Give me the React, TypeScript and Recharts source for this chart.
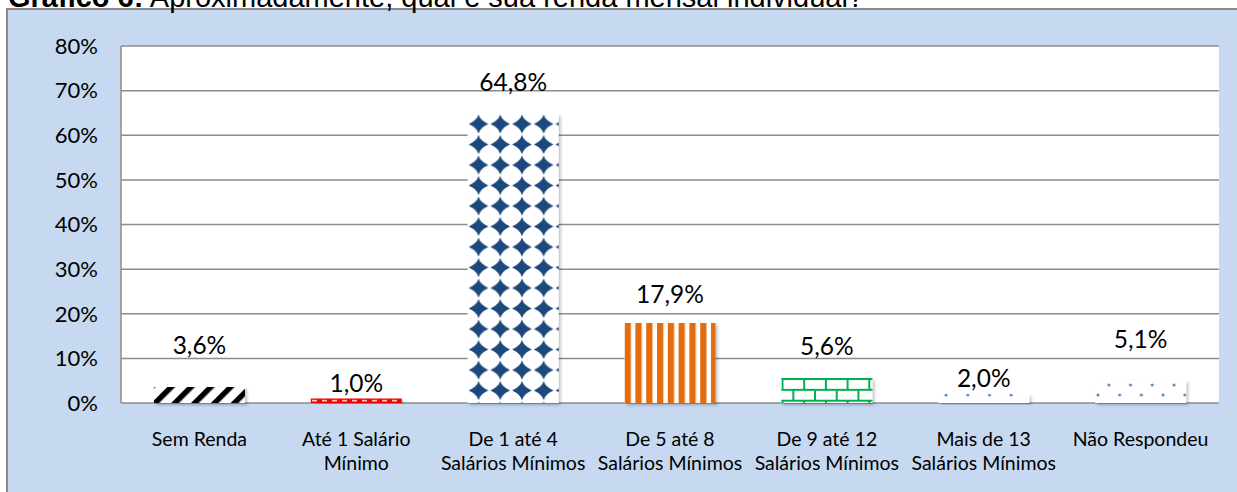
import { BarChart, Bar, Cell, XAxis, YAxis, CartesianGrid, LabelList } from "recharts";

// valores (em %)
const categories = [
  "Sem Renda",
  "Até 1 Salário\nMínimo",
  "De 1 até 4\nSalários Mínimos",
  "De 5 até 8\nSalários Mínimos",
  "De 9 até 12\nSalários Mínimos",
  "Mais de 13\nSalários Mínimos",
  "Não Respondeu",
];
const shares = [3.6, 1.0, 64.8, 17.9, 5.6, 2.0, 5.1];
const shareLabels = ["3,6%", "1,0%", "64,8%", "17,9%", "5,6%", "2,0%", "5,1%"];
const yTicks = [0, 10, 20, 30, 40, 50, 60, 70, 80];

// estilo: padrão de cada barra e distância do rótulo ao topo da barra
const patternIds = ["pStripes", "pDashes", "pDiamonds", "pVStripes", "pBricks", "pDots", "pDots"];
const labelLift = [42, 15.5, 32, 29, 32, 16, 41];

const chartData = categories.map((name, i) => ({ name, value: shares[i], label: shareLabels[i] }));

const FONT = "Lato, 'DejaVu Sans', sans-serif";

// eslint-disable-next-line @typescript-eslint/no-explicit-any
const CategoryTick = ({ x, y, payload }: any) => {
  const lines = String(payload.value).split("\n");
  return (
    <text x={x} y={y} textAnchor="middle" fontFamily={FONT} fontSize={19.5} fill="#000">
      {lines.map((line: string, i: number) => (
        <tspan key={i} x={x} y={y + 35 + i * 23.5}>
          {line}
        </tspan>
      ))}
    </text>
  );
};

// eslint-disable-next-line @typescript-eslint/no-explicit-any
const ValueLabel = ({ x, y, width, index, value }: any) => {
  const cy = y - labelLift[index];
  return (
    <text x={x + width / 2} y={cy + 8.8} textAnchor="middle" fontFamily={FONT} fontSize={24.5} fill="#000">
      {value}
    </text>
  );
};

export default function App() {
  return (
    <div style={{ position: "fixed", left: 0, top: 0, width: 1237, height: 492, overflow: "hidden", background: "#fff" }}>
      <div
        style={{
          position: "absolute",
          left: 6,
          top: 8,
          width: 1300,
          height: 600,
          background: "#C6D9F0",
          border: "2px solid #8a8a8a",
        }}
      />
      <div style={{ position: "absolute", left: 0, top: 0 }}>
        <BarChart
          width={1237}
          height={492}
          data={chartData}
          margin={{ top: 46, right: 18, left: 0, bottom: 0 }}
          barCategoryGap="21%"
        >
          <defs>
            <pattern id="pStripes" patternUnits="userSpaceOnUse" width={14} height={14} patternTransform="rotate(45)">
              <rect width={14} height={14} fill="#fff" />
              <rect x={0} y={0} width={5.5} height={14} fill="#000" />
            </pattern>
            <pattern id="pDashes" patternUnits="userSpaceOnUse" width={10} height={4.5} y={398.5}>
              <rect width={10} height={4.5} fill="#ff0000" />
              <rect x={2} y={1.6} width={5} height={1.3} fill="#fff" />
            </pattern>
            <pattern id="pDiamonds" patternUnits="userSpaceOnUse" width={21.7} height={20.5} x={467.7} y={113.8}>
              <rect width={21.7} height={20.5} fill="#fff" />
              <path
                d="M10.85 0.8 Q12.5 6.5 20.6 10.25 Q12.5 14 10.85 19.7 Q9.2 14 1.1 10.25 Q9.2 6.5 10.85 0.8 Z"
                fill="#1F497D"
              />
            </pattern>
            <pattern id="pVStripes" patternUnits="userSpaceOnUse" width={10.8} height={10} x={624.6}>
              <rect width={10.8} height={10} fill="#fff" />
              <rect x={0} width={6.3} height={10} fill="#E46C0A" />
            </pattern>
            <pattern id="pBricks" patternUnits="userSpaceOnUse" width={21.7} height={21.7} x={781.5} y={378}>
              <rect width={21.7} height={21.7} fill="#fff" />
              <rect x={0} y={0} width={21.7} height={2} fill="#00B050" />
              <rect x={0} y={10.85} width={21.7} height={2} fill="#00B050" />
              <rect x={0} y={0} width={2} height={10.85} fill="#00B050" />
              <rect x={10.85} y={10.85} width={2} height={10.85} fill="#00B050" />
            </pattern>
            <pattern id="pDots" patternUnits="userSpaceOnUse" width={21.7} height={20} x={1095} y={372}>
              <rect width={21.7} height={20} fill="#fff" />
              <circle cx={3} cy={3} r={1.5} fill="#5f82b8" />
              <circle cx={13.85} cy={13} r={1.5} fill="#5f82b8" />
            </pattern>
            <filter id="barShadow" x="-10%" y="-10%" width="130%" height="130%">
              <feDropShadow dx={2} dy={2} stdDeviation={1.5} floodColor="#000" floodOpacity={0.25} />
            </filter>
          </defs>
          <CartesianGrid vertical={false} fill="#fff" stroke="#8c8c8c" strokeWidth={1.5} />
          <XAxis
            dataKey="name"
            height={89}
            axisLine={false}
            tickLine={false}
            interval={0}
            tick={<CategoryTick />}
          />
          <YAxis
            width={121}
            domain={[0, 80]}
            ticks={yTicks}
            tickFormatter={(v: number) => `${v}%`}
            axisLine={{ stroke: "#8c8c8c", strokeWidth: 1.5 }}
            tickLine={false}
            tickMargin={17}
            tick={{ fontFamily: FONT, fontSize: 22, fill: "#000" }}
          />
          <Bar dataKey="value" isAnimationActive={false}>
            {chartData.map((entry, index) => (
              <Cell key={`cell-${index}`} fill={`url(#${patternIds[index]})`} filter="url(#barShadow)" />
            ))}
            <LabelList dataKey="label" content={<ValueLabel />} />
          </Bar>
        </BarChart>
      </div>
      <svg width={1237} height={16} style={{ position: "absolute", left: 0, top: 0 }}>
        <text x={8} y={6.5} fontFamily="'Liberation Sans', Arial, sans-serif" fontSize={29} fill="#000">
          <tspan fontWeight="bold">Gráfico 6:</tspan> Aproximadamente, qual é sua renda mensal individual?
        </text>
      </svg>
    </div>
  );
}
